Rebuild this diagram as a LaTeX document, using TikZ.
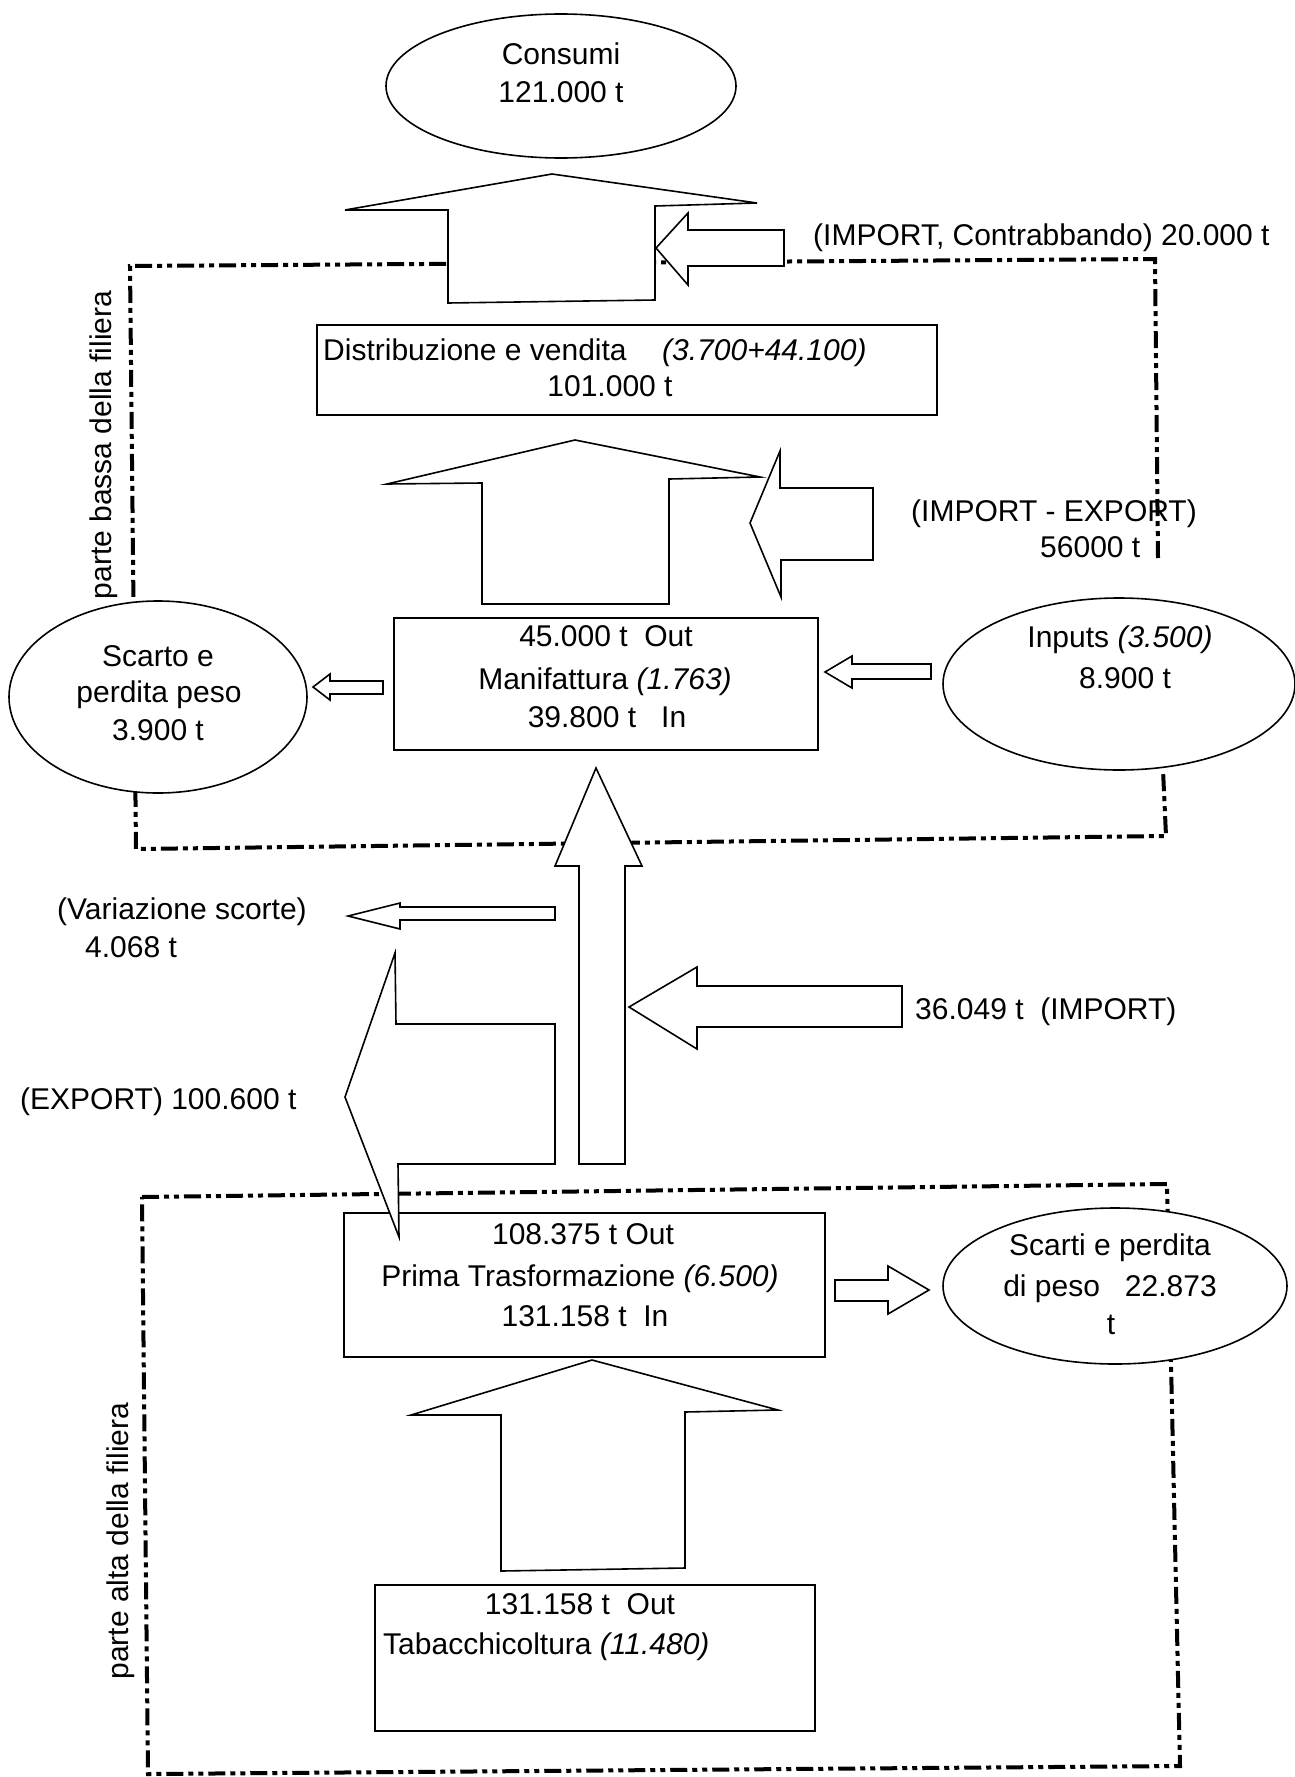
\documentclass[tikz,border=0pt]{standalone}
\usepackage{fontspec}
\setmainfont{Liberation Sans}
\usetikzlibrary{shapes.geometric}
\newcommand{\fsz}{\fontsize{30}{36}\selectfont}
\tikzset{
  lbl/.style={font=\fsz, inner sep=0pt, anchor=base},
  lblw/.style={lbl, anchor=base west},
  shp/.style={draw, line width=1.6pt, fill=white},
  boxn/.style={shp, rectangle, inner sep=0pt},
  elln/.style={shp, ellipse, inner sep=0pt},
  dd/.style={line width=4pt, dash pattern=on 17pt off 5pt on 5pt off 5pt on 5pt off 5pt},
  barrow/.style={draw, line width=1.6pt, fill=white}
}
\begin{document}
\begin{tikzpicture}[x=1pt,y=-1pt]
\useasboundingbox (0,0) rectangle (1295,1777);
% dashed frames
\draw[dd] (1158,558) -- (1155,259) -- (130,266) -- (136,849) -- (1166,836) -- (1163,770);
\draw[dd] (142,1197) -- (1167,1184) -- (1180,1766) -- (148,1774) -- cycle;
% ellipses
\node[elln, minimum width=350pt, minimum height=144pt] (cons) at (561,86) {};
\node[elln, minimum width=298pt, minimum height=192pt] (scarto) at (158,697) {};
\node[elln, minimum width=352pt, minimum height=172pt] (inputs) at (1119,684) {};
\node[elln, minimum width=344pt, minimum height=156pt] (scarti) at (1115,1286) {};
% boxes
\node[boxn, minimum width=620pt, minimum height=90pt] (dist) at (627,370) {};
\node[boxn, minimum width=424pt, minimum height=132pt] (manif) at (606,684) {};
\node[boxn, minimum width=481pt, minimum height=144pt] (prima) at (584.5,1285) {};
\node[boxn, minimum width=440pt, minimum height=146pt] (tab) at (595,1658) {};
% block arrows
\draw[barrow] (448,303) -- (448,210) -- (345,210) -- (552,174) -- (757,203) -- (655,206) -- (655,300) -- cycle;
\draw[barrow] (656,248) -- (688,213) -- (688,230) -- (784,230) -- (784,266) -- (688,266) -- (688,285) -- cycle;
\draw[barrow] (482,604) -- (482,483) -- (387,484) -- (575,440) -- (760,477) -- (669,479) -- (669,604) -- cycle;
\draw[barrow] (750,523) -- (780,451) -- (780,488) -- (873,488) -- (873,560) -- (781,560) -- (781,597) -- cycle;
\draw[barrow] (313,687) -- (330,674) -- (330,681) -- (383,681) -- (383,694) -- (330,694) -- (330,700) -- cycle;
\draw[barrow] (825,672) -- (852,656) -- (852,664) -- (931,664) -- (931,679) -- (852,679) -- (852,688) -- cycle;
\draw[barrow] (579,1164) -- (579,866) -- (555,866) -- (596,768) -- (642,866) -- (625,866) -- (625,1164) -- cycle;
\draw[barrow] (348,916) -- (400,903) -- (400,907) -- (555,907) -- (555,920) -- (400,920) -- (400,929) -- cycle;
\draw[barrow] (345,1097) -- (395,953) -- (396,1024) -- (555,1024) -- (555,1164) -- (398,1164) -- (399,1237) -- cycle;
\draw[barrow] (629,1007) -- (697,967) -- (697,986) -- (902,986) -- (902,1027) -- (697,1027) -- (697,1049) -- cycle;
\draw[barrow] (929,1290) -- (888,1266) -- (888,1280) -- (835,1280) -- (835,1301) -- (888,1301) -- (888,1314) -- cycle;
\draw[barrow] (501,1571) -- (501,1415) -- (411,1415) -- (592,1360) -- (778,1410) -- (685,1412) -- (685,1568) -- cycle;
% texts
\node[lbl] (t1) at (561,64) {Consumi};
\node[lbl] (t2) at (561,102) {121.000 t};
\node[lblw] (t3) at (813,245) {(IMPORT, Contrabbando) 20.000 t};
\node[lblw] (t4) at (323,360) {Distribuzione e vendita};
\node[lblw] (t5) at (662,360) {\textit{(3.700+44.100)}};
\node[lbl] (t6) at (610,396) {101.000 t};
\node[lblw] (t7) at (911,521) {(IMPORT - EXPORT)};
\node[lblw] (t8) at (1040,557) {56000 t};
\node[lbl] (t9) at (606,646) {45.000 t\ \ Out};
\node[lbl] (t10) at (605,689) {Manifattura \textit{(1.763)}};
\node[lbl] (t11) at (607,727) {39.800 t\ \ \ In};
\node[lbl] (t12) at (158,666) {Scarto e};
\node[lbl] (t13) at (159,702) {perdita peso};
\node[lbl] (t14) at (158,740) {3.900 t};
\node[lbl] (t15) at (1120,647) {Inputs \textit{(3.500)}};
\node[lbl] (t16) at (1125,688) {8.900 t};
\node[lblw] (t17) at (57,919) {(Variazione scorte)};
\node[lblw] (t18) at (85,957) {4.068 t};
\node[lblw] (t19) at (20,1109) {(EXPORT) 100.600 t};
\node[lblw] (t20) at (915,1019) {36.049 t\ \ (IMPORT)};
\node[lbl] (t21) at (583,1244) {108.375 t Out};
\node[lbl] (t22) at (580,1286) {Prima Trasformazione \textit{(6.500)}};
\node[lbl] (t23) at (585,1326) {131.158 t\ \ In};
\node[lbl] (t24) at (1110,1255) {Scarti e perdita};
\node[lbl] (t25) at (1110,1296) {di peso\ \ \ 22.873};
\node[lbl] (t26) at (1111,1334) {t};
\node[lbl] (t27) at (580,1614) {131.158 t\ \ Out};
\node[lblw] (t28) at (383,1654) {Tabacchicoltura \textit{(11.480)}};
\node[lbl, rotate=90] (t29) at (111,445) {parte bassa della filiera};
\node[lbl, rotate=90] (t30) at (128,1541) {parte alta della filiera};
\end{tikzpicture}
\end{document}
